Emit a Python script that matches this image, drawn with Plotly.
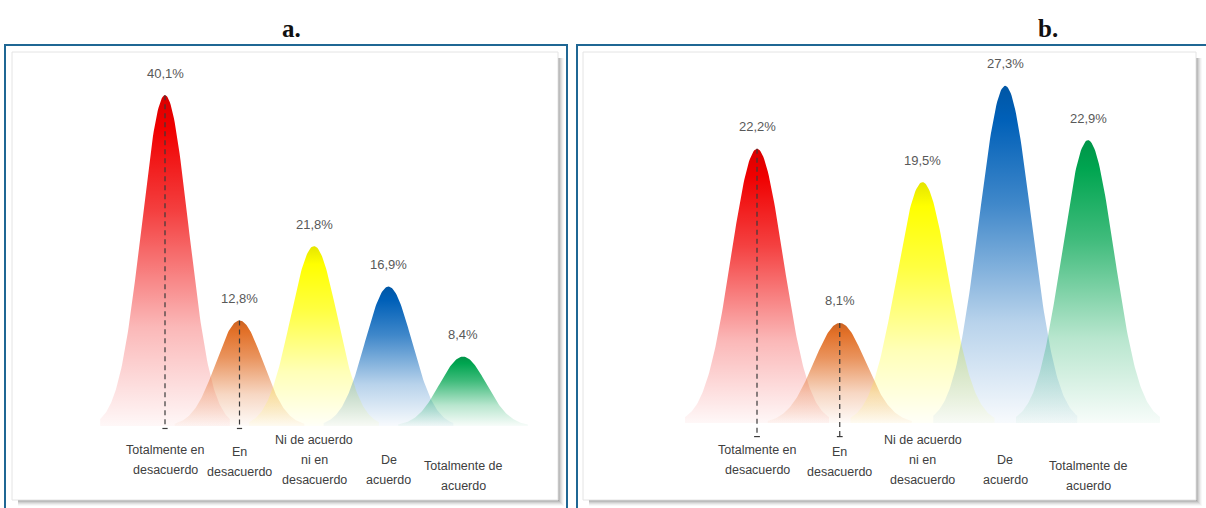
import numpy as np
import plotly.graph_objects as go

# ---------------- data ----------------
categories = [
    "Totalmente en<br>desacuerdo",
    "En<br>desacuerdo",
    "Ni de acuerdo<br>ni en<br>desacuerdo",
    "De<br>acuerdo",
    "Totalmente de<br>acuerdo",
]
values_a = [40.1, 12.8, 21.8, 16.9, 8.4]
values_b = [22.2, 8.1, 19.5, 27.3, 22.9]
panel_titles = ["a.", "b."]

# ---------------- style ----------------
W, H = 1206, 508
peak_rgb = [(240, 0, 0), (226, 112, 40), (255, 255, 0), (0, 96, 184), (0, 165, 80)]
SIGMA = 0.314          # bell width in category units
HALF_BASE = 0.87       # half-width of each bell at its foot
label_dy = [0, 2, 0, 10, 16]   # vertical nudge of the category labels (px)
LINE_GAP = 20
dropline_idx = [0, 1]
TEXT_FONT = "Liberation Sans, Arial, sans-serif"

# pixel geometry of each panel: inner frame, first centre, spacing, baseline, px per %
panels = [
    dict(frame=(12, 52, 558, 500), border=(5, 45, 567, 520), c0=165, sp=74.5,
         base=426, ppu=8.25, title_x=291, drop_end=-0.3),
    dict(frame=(583, 52, 1196, 500), border=(577, 45, 1220, 520), c0=757, sp=82.75,
         base=423, ppu=12.35, title_x=1048, drop_end=-1.1),
]
series = [values_a, values_b]

fig = go.Figure()
shapes = []
annotations = []


def px_x(p):
    return p / W


def px_y(p):
    return 1 - p / H


for k, (pan, vals) in enumerate(zip(panels, series)):
    ax = "" if k == 0 else str(k + 1)
    x0, y0, x1, y1 = pan["frame"]
    c0, sp, base, ppu = pan["c0"], pan["sp"], pan["base"], pan["ppu"]

    xa = dict(domain=[px_x(x0), px_x(x1)], range=[(x0 - c0) / sp, (x1 - c0) / sp],
              visible=False, fixedrange=True, anchor="y" + ax)
    ya = dict(domain=[px_y(y1), px_y(y0)], range=[(base - y1) / ppu, (base - y0) / ppu],
              visible=False, fixedrange=True, anchor="x" + ax)
    fig.layout["xaxis" + ax] = xa
    fig.layout["yaxis" + ax] = ya

    # outer blue border
    bx0, by0, bx1, by1 = pan["border"]
    shapes.append(dict(type="rect", xref="paper", yref="paper",
                       x0=px_x(bx0), x1=px_x(bx1), y0=px_y(by1), y1=px_y(by0),
                       line=dict(color="#1f6794", width=2), fillcolor="rgba(0,0,0,0)", layer="below"))
    # drop shadow of the inner picture
    greys = [168, 188, 208, 224, 238, 248]
    for j, g in enumerate(greys):
        col = f"rgb({g},{g},{g})"
        shapes.append(dict(type="rect", xref="paper", yref="paper",
                           x0=px_x(x1 + j), x1=px_x(x1 + j + 1), y0=px_y(y1 + 6), y1=px_y(y0 + 6),
                           line=dict(width=0), fillcolor=col, layer="below"))
        shapes.append(dict(type="rect", xref="paper", yref="paper",
                           x0=px_x(x0 + 6), x1=px_x(x1 + 6), y0=px_y(y1 + j + 1), y1=px_y(y1 + j),
                           line=dict(width=0), fillcolor=col, layer="below"))
    # inner picture frame
    shapes.append(dict(type="rect", xref="paper", yref="paper",
                       x0=px_x(x0), x1=px_x(x1), y0=px_y(y1), y1=px_y(y0),
                       line=dict(color="#e4e4e4", width=1), fillcolor="white", layer="below"))

    # bells
    u = np.linspace(-HALF_BASE, HALF_BASE, 161)
    for i, v in enumerate(vals):
        r, g, b = peak_rgb[i]
        bx = np.concatenate([[i - HALF_BASE], i + u, [i + HALF_BASE]])
        by = np.concatenate([[0], v * np.exp(-u ** 2 / (2 * SIGMA ** 2)), [0]])
        dr, dg, db = int(r * 0.9), int(g * 0.9), int(b * 0.9)
        cs = [
            [0.0, f"rgba({r},{g},{b},0.03)"],
            [0.3, f"rgba({r},{g},{b},0.28)"],
            [0.65, f"rgba({r},{g},{b},0.75)"],
            [0.9, f"rgba({r},{g},{b},1)"],
            [1.0, f"rgba({dr},{dg},{db},1)"],
        ]
        fig.add_trace(go.Scatter(
            x=bx, y=by, xaxis="x" + ax, yaxis="y" + ax, mode="lines",
            fill="toself", line=dict(width=0, color=f"rgba({r},{g},{b},0)"),
            fillgradient=dict(type="vertical", colorscale=cs, start=0, stop=v),
            hoverinfo="skip", showlegend=False,
        ))

    # dashed drop lines with a small foot tick
    for i in dropline_idx:
        v = vals[i]
        fig.add_trace(go.Scatter(
            x=[i, i], y=[v, pan["drop_end"]], xaxis="x" + ax, yaxis="y" + ax,
            mode="lines", line=dict(color="#3a3a3a", width=1.2, dash="5px,4px"),
            hoverinfo="skip", showlegend=False,
        ))
        fig.add_trace(go.Scatter(
            x=[i - 0.035, i + 0.035], y=[pan["drop_end"]] * 2, xaxis="x" + ax, yaxis="y" + ax,
            mode="lines", line=dict(color="#3a3a3a", width=1.2),
            hoverinfo="skip", showlegend=False,
        ))

    # value labels
    for i, v in enumerate(vals):
        annotations.append(dict(
            x=i, y=v, xref="x" + ax, yref="y" + ax, yshift=22, showarrow=False,
            text=f"{v:.1f}".replace(".", ",") + "%",
            font=dict(family=TEXT_FONT, size=13, color="#595959"),
            xanchor="center", yanchor="middle",
        ))

    # category labels, one line at a time
    for i, lab in enumerate(categories):
        lines = lab.split("<br>")
        n = len(lines)
        for m, line in enumerate(lines):
            ypx = 460 + label_dy[i] + (m - (n - 1) / 2) * LINE_GAP
            annotations.append(dict(
                x=i, y=px_y(ypx), xref="x" + ax, yref="paper", showarrow=False,
                text=line, font=dict(family=TEXT_FONT, size=12.5, color="#404040"),
                xanchor="center", yanchor="middle",
            ))

    # panel letter
    annotations.append(dict(
        x=px_x(pan["title_x"]), y=px_y(28), xref="paper", yref="paper", showarrow=False,
        text=f"<b>{panel_titles[k]}</b>",
        font=dict(family="Liberation Serif, DejaVu Serif, serif", size=25, color="#111111"),
        xanchor="center", yanchor="middle",
    ))

fig.update_layout(
    width=W, height=H, margin=dict(l=0, r=0, t=0, b=0),
    paper_bgcolor="white", plot_bgcolor="rgba(0,0,0,0)",
    shapes=shapes, annotations=annotations, showlegend=False,
)

fig.write_html("out.html", config={"displayModeBar": False})
